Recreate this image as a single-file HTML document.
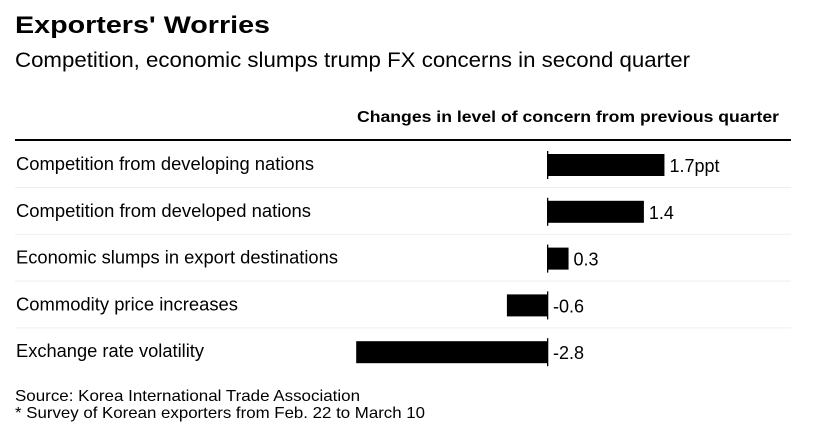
<!DOCTYPE html>
<html><head><meta charset="utf-8"><style>
body{margin:0;background:#fff;width:836px;height:435px;overflow:hidden;font-family:"Liberation Sans",Arial,sans-serif;color:#000}
</style></head><body>
<svg width="836" height="435" xmlns="http://www.w3.org/2000/svg" font-family="Liberation Sans, Arial, sans-serif" id="chart">
<text x="15" y="33" font-size="24" font-weight="bold" textLength="255" lengthAdjust="spacingAndGlyphs">Exporters' Worries</text>
<text x="15" y="67" font-size="21" textLength="675" lengthAdjust="spacingAndGlyphs">Competition, economic slumps trump FX concerns in second quarter</text>
<text x="357" y="122" font-size="16" font-weight="bold" textLength="422" lengthAdjust="spacingAndGlyphs">Changes in level of concern from previous quarter</text>
<rect x="15" y="139" width="776" height="2" fill="#000"/>
<g id="rows"></g>
<text x="15" y="401" font-size="16" textLength="345" lengthAdjust="spacingAndGlyphs">Source: Korea International Trade Association</text>
<text x="15" y="418" font-size="16" textLength="410" lengthAdjust="spacingAndGlyphs">* Survey of Korean exporters from Feb. 22 to March 10</text>
</svg>
<script>
const categories=["Competition from developing nations","Competition from developed nations","Economic slumps in export destinations","Commodity price increases","Exchange rate volatility"];
const values=[1.7,1.4,0.3,-0.6,-2.8];
const valueLabels=["1.7ppt","1.4","0.3","-0.6","-2.8"];
const labelWidths=[298,295,322,222,188];
const NS="http://www.w3.org/2000/svg";
const g=document.getElementById('rows');
const x0=548, scale=68.5, rowTop=154, rowStep=46.8, barH=22;
const xs=v=>x0+v*scale;
function mk(t,a){const e=document.createElementNS(NS,t);for(const k in a)e.setAttribute(k,a[k]);g.appendChild(e);return e;}
categories.forEach((c,i)=>{
  const y=rowTop+i*rowStep, v=values[i];
  const lab=mk('text',{x:16,y:y+16,'font-size':18,textLength:labelWidths[i],lengthAdjust:'spacingAndGlyphs'});lab.textContent=c;
  
  
  const x1=Math.min(xs(0),xs(v)), w=Math.abs(xs(v)-xs(0));
  const b=mk('rect',{x:x1,y:y,width:w,height:barH,fill:'#000'});
  
  
  const z=mk('rect',{x:x0-1,y:y-3,width:1.3,height:barH+6,fill:'#000'});
  
  
  const vx=v>=0?xs(v)+5:x0+5;
  const t=mk('text',{x:vx,y:y+18,'font-size':18});t.textContent=valueLabels[i];
  
  
  if(i<categories.length-1){
    const s=mk('rect',{x:15,y:y+33,width:776,height:1,fill:'#eee'});
    
    
  }
});
</script>
</body></html>
